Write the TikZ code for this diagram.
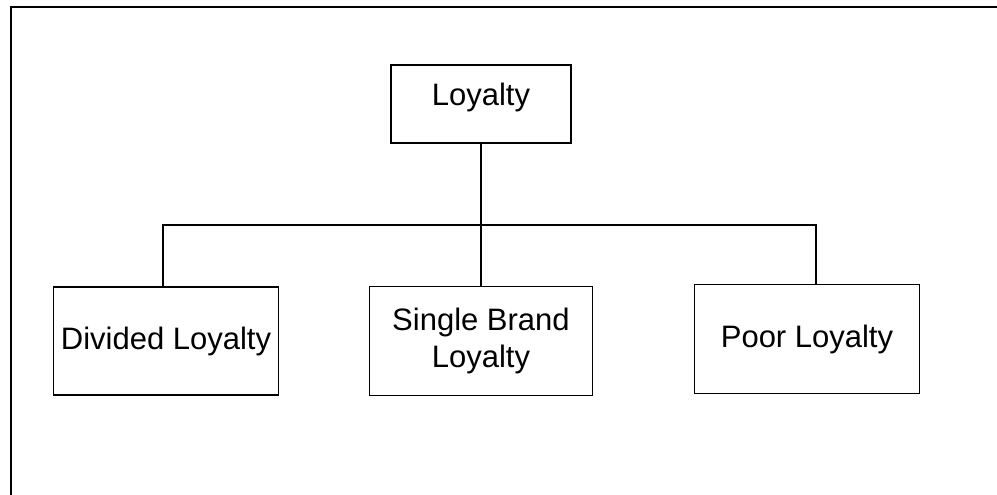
\documentclass[tikz,border=0pt]{standalone}
\usepackage{fontspec}
\setmainfont{Liberation Sans}
\usepackage{tikz}

\begin{document}
\begin{tikzpicture}[x=1pt, y=-1pt, line width=1.5pt,
    every node/.style={rectangle, draw, inner sep=0pt, align=center,
        font=\fontsize{31}{37}\selectfont}]
            \useasboundingbox (0,0) rectangle (997,495);
            % frame
            \draw[line width=2pt] (997,7) -- (11,7) -- (11,495);
            % Loyalty tree
            \node[minimum width=180pt, minimum height=78pt, text depth=20pt] (loyalty) at (481,104) {Loyalty};
            \node[minimum width=225pt, minimum height=108pt] (divided) at (166,341) {Divided Loyalty};
            \node[minimum width=223pt, minimum height=109pt] (single) at (481,341) {Single Brand\\Loyalty};
            \node[minimum width=225pt, minimum height=109pt] (poor) at (807,339) {Poor Loyalty};
            \coordinate (bar) at (0,225);
            \draw (loyalty.south) -- (single.north);
            \draw ([xshift=-3pt]divided.north) -- ([xshift=-3pt]divided.north |- bar)
                -- ([xshift=9pt]poor.north |- bar) -- ([xshift=9pt]poor.north);
        \end{tikzpicture}
\end{document}
